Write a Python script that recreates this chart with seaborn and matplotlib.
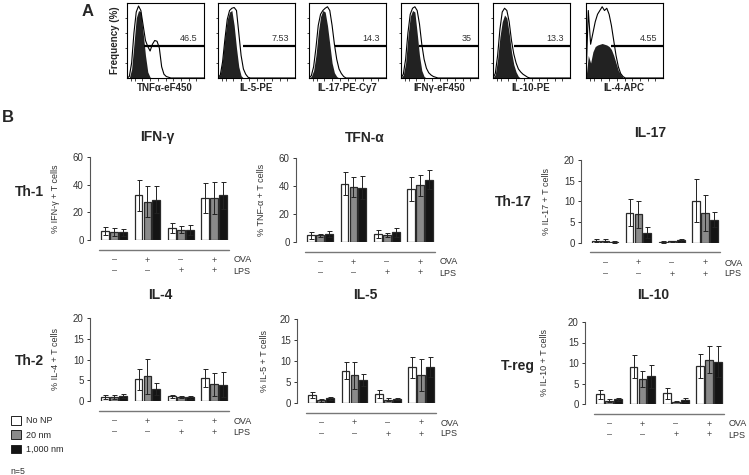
import matplotlib
matplotlib.use("Agg")
import matplotlib.pyplot as plt
from matplotlib.patches import Patch
import seaborn as sns
import pandas as pd

sns.set_theme(style="ticks")
plt.rcParams['font.family'] = ['Liberation Sans', 'DejaVu Sans']

W, H = 749, 475

# ---- panel A: flow histograms (heights, 0-1 of box) ----
hist_x = [0, .03, .06, .09, .12, .15, .18, .21, .24, .27, .30, .33, .36, .39,
          .42, .45, .48, .51, .54, .57, .60, 1.0]
tnf_iso = [0, 0, .12, .45, .80, .90, .88, .60, .30, .08, .01, 0, 0, 0, 0, 0, 0, 0, 0, 0, 0, 0]
tnf_stain = [0, .02, .20, .60, .88, .96, .90, .70, .50, .42, .36, .45, .50, .49, .40, .15, .05, .02, .01, 0, 0, 0]
il5_iso = [0, .05, .25, .55, .78, .88, .90, .70, .40, .15, .03, 0, 0, 0, 0, 0, 0, 0, 0, 0, 0, 0]
il5_stain = [0, .04, .22, .52, .78, .90, .93, .94, .90, .60, .30, .12, .05, .01, 0, 0, 0, 0, 0, 0, 0, 0]
il17_iso = [0, .02, .10, .30, .60, .82, .90, .88, .70, .45, .20, .07, .02, 0, 0, 0, 0, 0, 0, 0, 0, 0]
il17_stain = [0, .03, .15, .40, .70, .85, .90, .93, .95, .90, .70, .45, .25, .12, .06, .02, 0, 0, 0, 0, 0, 0]
ifng_iso = [0, .04, .20, .55, .82, .90, .88, .60, .30, .10, .02, 0, 0, 0, 0, 0, 0, 0, 0, 0, 0, 0]
ifng_stain = [0, .05, .25, .60, .85, .93, .95, .90, .72, .45, .25, .13, .07, .04, .02, .01, 0, 0, 0, 0, 0, 0]
il10_iso = [0, .05, .25, .55, .75, .84, .80, .60, .35, .18, .08, .02, 0, 0, 0, 0, 0, 0, 0, 0, 0, 0]
il10_stain = [0, .06, .30, .65, .88, .93, .90, .75, .50, .32, .20, .12, .08, .05, .03, .01, 0, 0, 0, 0, 0, 0]
il4_iso = [0, .30, .20, .35, .42, .44, .45, .46, .45, .44, .42, .38, .30, .20, .10, .05, .01, 0, 0, 0, 0, 0]
il4_stain = [0, .90, .45, .60, .75, .85, .90, .95, .90, .93, .85, .70, .50, .30, .15, .06, .02, 0, 0, 0, 0, 0]

hist_labels = ["TNFα-eF450", "IL-5-PE", "IL-17-PE-Cy7", "IFNγ-eF450", "IL-10-PE", "IL-4-APC"]
gate_values = ["46.5", "7.53", "14.3", "35", "13.3", "4.55"]
gate_start = [0.22, 0.32, 0.34, 0.23, 0.27, 0.32]
hist_iso = [tnf_iso, il5_iso, il17_iso, ifng_iso, il10_iso, il4_iso]
hist_stain = [tnf_stain, il5_stain, il17_stain, ifng_stain, il10_stain, il4_stain]
hist_left = [127, 218, 309, 401, 493, 586]

# ---- panel B: bar data, [condition][treatment] ----
conditions = ["c1", "c2", "c3", "c4"]
ova_signs = ["–", "+", "–", "+"]
lps_signs = ["–", "–", "+", "+"]
treatments = ["No NP", "20 nm", "1,000 nm"]
bar_colors = ["white", "#8a8a8a", "#141414"]

ifng_mean = [[6.5, 6.0, 5.6], [32.2, 27.8, 29.0], [8.5, 7.3, 7.3], [30.3, 30.3, 32.2]]
ifng_sd = [[3.0, 3.0, 2.5], [11.0, 11.0, 9.7], [3.6, 2.5, 3.6], [11.0, 11.3, 10.0]]
tnf_mean = [[4.8, 4.8, 5.8], [41.7, 39.1, 38.9], [5.5, 5.0, 7.0], [37.9, 40.5, 44.4]]
tnf_sd = [[2.4, 1.0, 2.0], [8.4, 7.2, 8.2], [2.9, 1.5, 3.1], [8.4, 7.7, 6.7]]
il17_mean = [[0.55, 0.55, 0.3], [7.3, 6.9, 2.5], [0.25, 0.4, 0.65], [10.2, 7.3, 5.6]]
il17_sd = [[0.4, 0.4, 0.2], [3.2, 3.2, 1.3], [0.2, 0.2, 0.3], [5.2, 4.3, 1.8]]
il4_mean = [[1.0, 1.0, 1.2], [5.2, 6.0, 2.9], [1.1, 1.0, 0.9], [5.6, 4.0, 3.9]]
il4_sd = [[0.4, 0.5, 0.5], [2.5, 4.2, 1.5], [0.4, 0.3, 0.3], [2.2, 2.7, 3.0]]
il5_mean = [[2.0, 0.6, 1.1], [7.7, 6.6, 5.4], [2.2, 0.8, 0.9], [8.5, 6.6, 8.5]]
il5_sd = [[0.7, 0.4, 0.4], [2.1, 3.2, 1.4], [1.0, 0.4, 0.2], [2.5, 3.8, 2.4]]
il10_mean = [[2.4, 0.8, 1.1], [9.1, 6.1, 6.8], [2.6, 0.6, 1.0], [9.2, 10.8, 10.3]]
il10_sd = [[1.1, 0.3, 0.3], [2.8, 1.9, 2.8], [1.4, 0.2, 0.4], [2.9, 3.3, 3.8]]


def px_rect(l, t, w, h):
    return [l / W, 1 - (t + h) / H, w / W, h / H]


def ftext(x, y, s, **kw):
    fig.text(x / W, 1 - y / H, s, ha="center", va="center", **kw)


fig = plt.figure(figsize=(W / 100, H / 100), dpi=100)

# panel A
for k in range(6):
    ax = fig.add_axes(px_rect(hist_left[k], 3, 77, 75))
    ax.fill_between(hist_x, hist_iso[k], color="#222222", lw=0)
    ax.plot(hist_x, hist_stain[k], color="black", lw=0.8)
    ax.plot([gate_start[k], 1], [0.43, 0.43], color="black", lw=1.6, solid_capstyle="butt")
    ax.text(0.92, 0.47, gate_values[k], ha="right", va="bottom", fontsize=6.5, color="#333")
    ax.set_xlim(0, 1)
    ax.set_ylim(0, 1)
    ax.set_xticks([0.05, 0.1, 0.2, 0.3, 0.4, 0.5, 0.6, 0.7, 0.8, 0.9])
    ax.set_yticks([0.2, 0.4, 0.6, 0.8])
    ax.set_xticklabels([])
    ax.set_yticklabels([])
    ax.tick_params(direction="out", length=1.8, width=0.6)
    for sp in ax.spines.values():
        sp.set_linewidth(0.8)
        sp.set_color("black")
    ftext(hist_left[k] + 38, 88, hist_labels[k], fontsize=7, fontweight="bold")

ftext(115, 40, "Frequency (%)", fontsize=7, fontweight="bold", rotation=90)
ftext(88, 11, "A", fontsize=12, fontweight="bold")
ftext(8, 117, "B", fontsize=12, fontweight="bold")


def bar_panel(rect, ylab, lab_x, means, sds, ymax, step):
    ax = fig.add_axes(px_rect(*rect))
    rows = []
    for i, cond in enumerate(conditions):
        for j, name in enumerate(treatments):
            rows.append({"cond": cond, "np": name, "value": means[i][j]})
    df = pd.DataFrame(rows)
    sns.barplot(data=df, x="cond", y="value", hue="np", order=conditions,
                hue_order=treatments, palette=dict(zip(treatments, bar_colors)),
                width=0.8, gap=0.12, errorbar=None, edgecolor="#2a2a2a",
                linewidth=0.9, legend=False, ax=ax)
    xs = [i + (j - 1) * 0.8 / 3 for i in range(4) for j in range(3)]
    ys = [means[i][j] for i in range(4) for j in range(3)]
    es = [sds[i][j] for i in range(4) for j in range(3)]
    ax.errorbar(xs, ys, yerr=es, fmt="none", ecolor="#222222", elinewidth=0.7,
                capsize=1.8, capthick=0.7)
    ax.set_xlim(-0.72, 3.5)
    ax.set_ylim(0, ymax)
    ax.set_yticks(range(0, ymax + 1, step))
    ax.set_xticks([])
    ax.set_xlabel("")
    ax.set_ylabel(ylab, fontsize=6.5, color="#333")
    ax.yaxis.set_label_coords(lab_x, 0.5)
    for s in ["top", "right", "bottom"]:
        ax.spines[s].set_visible(False)
    ax.spines["left"].set_linewidth(0.8)
    ax.spines["left"].set_color("#555")
    ax.tick_params(axis="y", length=2.5, width=0.7, labelsize=7, colors="#333", pad=2)
    h = rect[3]
    trans = ax.get_xaxis_transform()
    ax.plot([-0.45, 3.43], [-9.5 / h] * 2, transform=trans, clip_on=False,
            color="#777", lw=1)
    for i in range(4):
        ax.text(i, -20 / h, ova_signs[i], transform=trans, ha="center", va="center",
                fontsize=6.5, color="#444")
        ax.text(i, -31 / h, lps_signs[i], transform=trans, ha="center", va="center",
                fontsize=6.5, color="#444")
    ax.text(3.58, -20 / h, "OVA", transform=trans, ha="left", va="center", fontsize=6.5, color="#333")
    ax.text(3.58, -31 / h, "LPS", transform=trans, ha="left", va="center", fontsize=6.5, color="#333")
    return ax


bar_panel((90, 157, 141, 83), "% IFN-γ + T cells", -0.21, ifng_mean, ifng_sd, 60, 20)
bar_panel((296, 158, 141, 84), "% TNF-α + T cells", -0.21, tnf_mean, tnf_sd, 60, 20)
bar_panel((581, 160, 141, 83), "% IL-17 + T cells", -0.21, il17_mean, il17_sd, 20, 5)
bar_panel((90, 318, 141, 83), "% IL-4 + T cells", -0.21, il4_mean, il4_sd, 20, 5)
bar_panel((297, 319, 141, 84), "% IL-5 + T cells", -0.2, il5_mean, il5_sd, 20, 5)
bar_panel((585, 322, 141, 82), "% IL-10 + T cells", -0.255, il10_mean, il10_sd, 20, 5)

titles = ["IFN-γ", "TFN-α", "IL-17", "IL-4", "IL-5", "IL-10"]
title_xy = [(157, 137), (365, 138), (650, 133), (160, 295), (365, 295), (653, 295)]
for t, (x, y) in zip(titles, title_xy):
    ftext(x, y, t, fontsize=10, fontweight="bold")

rows_lab = ["Th-1", "Th-2", "Th-17", "T-reg"]
rows_xy = [(29, 192), (29, 361), (513, 202), (518, 366)]
for t, (x, y) in zip(rows_lab, rows_xy):
    ftext(x, y, t, fontsize=10, fontweight="bold")

handles = [Patch(facecolor=c, edgecolor="#222", lw=0.7) for c in bar_colors]
fig.legend(handles, treatments, loc="upper left", bbox_to_anchor=(11 / W, 1 - 416 / H),
           frameon=False, fontsize=6.5, handlelength=1.1, handleheight=1.1,
           handletextpad=0.55, labelspacing=0.55, borderaxespad=0, borderpad=0)
fig.text(10 / W, 1 - 471 / H, "n=5", ha="left", va="center", fontsize=6.3, color="#333")

fig.savefig("out.png", dpi=100)
